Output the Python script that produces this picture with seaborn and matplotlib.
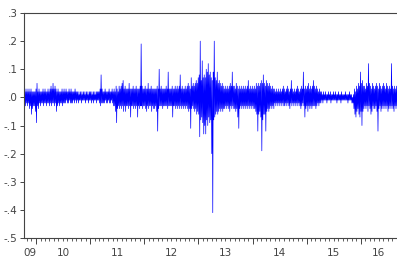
import numpy as np
import pandas as pd
import seaborn as sns
import matplotlib.pyplot as plt
import matplotlib.dates as mdates
import matplotlib.transforms as mtransforms

# envelope of the return series read per pixel column (units of 0.01)
hi = [4, 3, 2, 3, 2, 3, 2, 3, 2, 2,
      2, 2, 3, 5, 2, 3, 2, 2, 2, 3,
      2, 3, 2, 2, 3, 2, 3, 4, 3, 5,
      3, 4, 3, 2, 3, 2, 2, 2, 3, 2,
      3, 2, 3, 2, 2, 3, 2, 3, 2, 2,
      2, 3, 2, 2, 2, 1, 2, 2, 1, 2,
      2, 1, 2, 2, 1, 2, 2, 2, 1, 2,
      2, 1, 2, 2, 2, 2, 3, 8, 3, 2,
      2, 3, 2, 2, 2, 3, 2, 2, 3, 2,
      3, 2, 4, 3, 2, 4, 3, 4, 5, 6,
      3, 4, 3, 3, 3, 5, 3, 3, 3, 4,
      3, 3, 4, 3, 3, 3, 4, 19, 4, 3,
      3, 4, 3, 3, 5, 3, 3, 4, 3, 3,
      3, 3, 3, 4, 3, 10, 3, 4, 3, 3,
      3, 3, 4, 3, 9, 3, 3, 3, 4, 3,
      3, 4, 3, 4, 3, 4, 8, 3, 4, 3,
      3, 4, 3, 4, 5, 4, 3, 7, 4, 5,
      4, 5, 6, 5, 7, 8, 20, 6, 13, 7,
      8, 7, 10, 9, 12, 8, 9, 7, 6, 9,
      20, 7, 6, 9, 5, 6, 5, 4, 5, 4,
      3, 4, 3, 4, 3, 4, 5, 4, 9, 4,
      4, 3, 5, 4, 3, 4, 3, 4, 3, 4,
      3, 4, 3, 4, 6, 3, 4, 3, 4, 3,
      4, 3, 5, 4, 5, 4, 5, 6, 5, 8,
      5, 4, 6, 5, 4, 5, 4, 3, 4, 3,
      3, 2, 3, 2, 3, 2, 3, 2, 3, 4,
      3, 2, 3, 4, 3, 2, 3, 6, 3, 2,
      3, 2, 3, 4, 3, 2, 3, 4, 3, 9,
      3, 4, 3, 4, 5, 3, 4, 3, 4, 6,
      4, 3, 4, 3, 2, 3, 2, 2, 1, 2,
      1, 2, 1, 1, 2, 1, 2, 1, 1, 2,
      1, 2, 1, 1, 2, 1, 1, 2, 1, 1,
      1, 2, 1, 1, 1, 2, 1, 1, 0, 1,
      3, 2, 4, 3, 5, 4, 9, 5, 6, 4,
      4, 3, 5, 4, 12, 5, 4, 3, 5, 4,
      3, 4, 5, 4, 3, 5, 4, 3, 4, 5,
      4, 3, 5, 4, 3, 4, 3, 12, 4, 3,
      4, 3, 4]
lo = [-2, -3, -2, -3, -2, -4, -3, -6, -4, -3,
      -3, -5, -9, -3, -4, -2, -3, -2, -2, -3,
      -2, -2, -3, -2, -2, -3, -2, -3, -2, -2,
      -3, -2, -5, -3, -2, -3, -2, -2, -3, -2,
      -2, -2, -1, -2, -2, -1, -2, -2, -2, -1,
      -2, -1, -2, -1, -2, -1, -1, -2, -1, -1,
      -1, -2, -1, -1, -2, -1, -1, -2, -1, -2,
      -1, -1, -2, -1, -1, -2, -3, -2, -2, -2,
      -2, -1, -2, -2, -1, -2, -2, -1, -2, -3,
      -3, -5, -9, -4, -3, -4, -3, -4, -3, -5,
      -3, -5, -3, -3, -4, -3, -7, -3, -3, -4,
      -3, -4, -3, -7, -3, -4, -3, -3, -4, -3,
      -3, -4, -5, -3, -4, -3, -3, -5, -3, -4,
      -4, -3, -5, -12, -4, -3, -3, -3, -4, -3,
      -3, -3, -3, -4, -3, -3, -3, -3, -7, -3,
      -3, -4, -3, -4, -3, -4, -3, -4, -3, -4,
      -3, -4, -3, -4, -5, -4, -11, -4, -3, -4,
      -5, -4, -6, -5, -6, -14, -8, -7, -9, -13,
      -10, -13, -8, -10, -7, -9, -8, -20, -41, -8,
      -7, -6, -5, -6, -5, -4, -5, -4, -5, -4,
      -4, -3, -4, -3, -4, -5, -3, -4, -3, -4,
      -4, -5, -4, -7, -11, -4, -3, -4, -3, -4,
      -3, -4, -3, -4, -3, -4, -3, -4, -3, -4,
      -4, -5, -6, -12, -6, -5, -7, -19, -8, -6,
      -6, -12, -5, -4, -5, -4, -3, -4, -3, -4,
      -2, -3, -2, -3, -2, -3, -2, -3, -2, -3,
      -3, -2, -3, -2, -3, -4, -2, -3, -2, -3,
      -2, -3, -2, -3, -2, -3, -4, -3, -2, -3,
      -7, -4, -3, -5, -3, -4, -3, -4, -3, -3,
      -3, -4, -3, -2, -3, -2, -2, -1, -2, -1,
      -1, -1, -2, -1, -1, -1, -2, -1, -1, -1,
      -1, -1, -2, -1, -1, -1, -2, -1, -1, -1,
      -1, -1, -1, -2, -1, -1, -1, -2, -2, -4,
      -6, -7, -5, -4, -6, -7, -5, -10, -5, -4,
      -3, -4, -3, -5, -3, -4, -6, -5, -3, -4,
      -4, -3, -5, -12, -4, -3, -5, -4, -3, -4,
      -3, -4, -3, -5, -4, -3, -4, -3, -4, -5,
      -3, -4, -3]

start, end = "2009-10-12", "2016-09-01"
years = list(range(2009, 2017))
year_labels = ["09", "10", "11", "12", "13", "14", "15", "16"]
y_ticks = [0.3, 0.2, 0.1, 0.0, -0.1, -0.2, -0.3, -0.4, -0.5]
y_labels = [".3", ".2", ".1", ".0", "-.1", "-.2", "-.3", "-.4", "-.5"]

vals = []
for h, l in zip(hi, lo):
    vals += [h / 100, l / 100]
dates = pd.date_range(start, end, periods=len(vals))
df = pd.DataFrame({"date": dates, "r": vals})

sns.set_style("ticks")
fig = plt.figure(figsize=(3.97, 2.63), dpi=100)
ax = fig.add_axes([24 / 397, 25 / 263, 373 / 397, 225 / 263])
sns.lineplot(data=df, x="date", y="r", ax=ax, color="#0000ff",
             linewidth=0.5, estimator=None)

x0, x1 = pd.Timestamp(start), pd.Timestamp(end)
ax.set_xlim(x0, x1)
ax.set_ylim(-0.5, 0.3)
ax.set_yticks(y_ticks)
ax.set_yticklabels(y_labels)
ax.set_xlabel("")
ax.set_ylabel("")
ax.spines["right"].set_visible(False)
for s in ["left", "top", "bottom"]:
    ax.spines[s].set_color("#444444")
    ax.spines[s].set_linewidth(0.8)

ax.xaxis.set_major_locator(mdates.YearLocator())
ax.xaxis.set_major_formatter(plt.NullFormatter())
ax.xaxis.set_minor_locator(mdates.MonthLocator())
ax.tick_params(axis="x", which="major", length=4, width=0.7, color="#444444")
ax.tick_params(axis="x", which="minor", length=2, width=0.6, color="#444444")
ax.tick_params(axis="y", length=3, width=0.7, color="#444444",
               labelsize=7.5, labelcolor="#444444", pad=1.5)

# year labels centred on the visible part of each year
trans = mtransforms.blended_transform_factory(ax.transData, ax.transAxes)
for y, lab in zip(years, year_labels):
    a = max(pd.Timestamp(f"{y}-01-01"), x0)
    b = min(pd.Timestamp(f"{y + 1}-01-01"), x1)
    mid = a + (b - a) / 2
    ax.text(mdates.date2num(mid), -0.065, lab, transform=trans, ha="center",
            va="center", fontsize=7.5, color="#444444")

fig.savefig("out.png", dpi=100)
